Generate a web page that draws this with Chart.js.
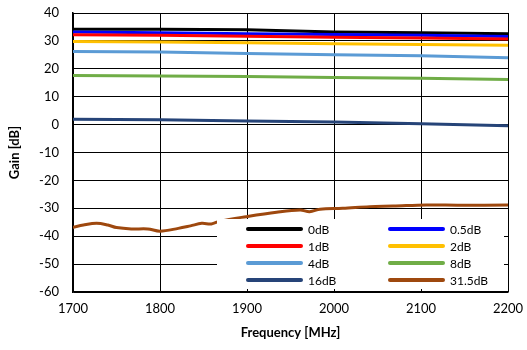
<!DOCTYPE html>
<html>
<head>
<meta charset="utf-8">
<script src="https://cdn.jsdelivr.net/npm/chart.js@4/dist/chart.umd.min.js"></script>
<style>
  html, body { margin: 0; padding: 0; background: #fff; }
  #wrap { width: 527px; height: 350px; }
</style>
</head>
<body>
<div id="wrap"><canvas id="gainChart" width="527" height="350"></canvas></div>
<script>
// frequencies for the flat curves [MHz]
const freqs = [1700, 1800, 1900, 2000, 2100, 2200];

// gain per attenuation step [dB]
const gain0dB   = [34.2, 34.2, 34.0, 33.2, 32.9, 32.6];
const gain05dB  = [33.2, 32.9, 32.6, 32.3, 32.0, 31.6];
const gain1dB   = [32.2, 32.0, 31.7, 31.3, 31.0, 30.7];
const gain2dB   = [29.8, 29.6, 29.3, 29.0, 28.7, 28.4];
const gain4dB   = [26.2, 26.0, 25.5, 25.0, 24.7, 24.0];
const gain8dB   = [17.6, 17.4, 17.2, 16.9, 16.6, 16.2];
const gain16dB  = [1.9, 1.7, 1.3, 0.9, 0.3, -0.4];

// the 31.5 dB curve is wavy, so it gets its own frequency points
const freqs315 = [1700, 1712, 1727, 1740, 1750, 1767, 1786, 1800, 1821, 1835, 1848, 1859,
                  1869, 1899, 1934, 1961, 1972, 1984, 2010, 2041, 2068, 2106, 2145, 2200];
const gain315dB = [-36.8, -36.0, -35.4, -36.0, -36.9, -37.4, -37.4, -38.2, -37.2, -36.3, -35.4, -35.6,
                   -34.6, -33.0, -31.4, -30.6, -31.2, -30.3, -30.0, -29.4, -29.2, -28.8, -28.9, -28.8];

const seriesLabels = ["0dB", "0.5dB", "1dB", "2dB", "4dB", "8dB", "16dB", "31.5dB"];
const seriesColors = ["#000000", "#0000FF", "#FF0000", "#FFC000", "#5B9BD5", "#70AD47", "#264478", "#9E480E"];
const xTicks = [1700, 1800, 1900, 2000, 2100, 2200];
const yTicks = [40, 30, 20, 10, 0, -10, -20, -30, -40, -50, -60];

const FONT = "Lato, 'Liberation Sans', sans-serif";

function pts(xs, ys) {
    return xs.map((x, i) => ({ x: x, y: ys[i] }));
}

const allSeries = [
    pts(freqs, gain0dB),
    pts(freqs, gain05dB),
    pts(freqs, gain1dB),
    pts(freqs, gain2dB),
    pts(freqs, gain4dB),
    pts(freqs, gain8dB),
    pts(freqs, gain16dB),
    pts(freqs315, gain315dB)
];

const datasets = allSeries.map((d, i) => ({
    label: seriesLabels[i],
    data: d,
    borderColor: seriesColors[i],
    backgroundColor: seriesColors[i],
    borderWidth: 3,
    pointRadius: 0,
    tension: i == 7 ? 0.35 : 0,
    order: 8 - i,
    borderCapStyle: "round"
}));

// white legend box drawn over the lower right of the plot, like Excel does
const boxLegend = {
    id: "boxLegend",
    afterDatasetsDraw(chart) {
        const ctx = chart.ctx;
        const a = chart.chartArea;
        const bx = a.left + 144, by = a.top + 206;
        const bw = a.right - 4 - bx, bh = a.bottom - 3 - by;
        ctx.save();
        ctx.fillStyle = "#ffffff";
        ctx.fillRect(bx, by, bw, bh);
        ctx.font = "12px " + FONT;
        ctx.textBaseline = "middle";
        ctx.fillStyle = "#000";
        for (let i = 0; i < seriesLabels.length; i++) {
            const col = i % 2, row = Math.floor(i / 2);
            const lx = a.left + 175 + col * 142;
            const ly = a.top + 216 + row * 17;
            ctx.strokeStyle = seriesColors[i];
            ctx.lineWidth = 4;
            ctx.lineCap = "round";
            ctx.beginPath();
            ctx.moveTo(lx, ly);
            ctx.lineTo(lx + 53, ly);
            ctx.stroke();
            ctx.fillText(seriesLabels[i], lx + 60, ly + 1);
        }
        ctx.restore();
    }
};

const myChart = new Chart(document.getElementById("gainChart"), {
    type: "line",
    data: { datasets: datasets },
    options: {
        responsive: false,
        animation: false,
        layout: { padding: { left: 0, top: 13, right: 19, bottom: 0 } },
        plugins: {
            legend: { display: false },
            tooltip: { enabled: false }
        },
        scales: {
            x: {
                type: "linear",
                min: 1700,
                max: 2200,
                afterBuildTicks: (s) => { s.ticks = xTicks.map(v => ({ value: v })); },
                afterFit: (s) => { s.height = 58; s.paddingLeft = 0; s.paddingRight = 0; },
                ticks: {
                    color: "#000",
                    padding: 9,
                    maxRotation: 0,
                    callback: (v) => String(v),
                    font: { family: FONT, size: 13 }
                },
                grid: { color: "#000", lineWidth: 1, drawTicks: false },
                border: { color: "#000", width: 1.5 },
                title: {
                    display: true,
                    text: "Frequency [MHz]",
                    color: "#000",
                    padding: { top: 4, bottom: 9 },
                    font: { family: FONT, size: 13, weight: "bold" }
                }
            },
            y: {
                min: -60,
                max: 40,
                afterBuildTicks: (s) => { s.ticks = yTicks.map(v => ({ value: v })); },
                afterFit: (s) => { s.width = 73; s.paddingTop = 0; s.paddingBottom = 0; },
                ticks: {
                    color: "#000",
                    padding: 14,
                    callback: (v) => String(v),
                    font: { family: FONT, size: 13 }
                },
                grid: { color: "#000", lineWidth: 1, drawTicks: false },
                border: { color: "#000", width: 1.5 },
                title: {
                    display: true,
                    text: "Gain [dB]",
                    color: "#000",
                    padding: { top: 7, bottom: 0 },
                    font: { family: FONT, size: 13, weight: "bold" }
                }
            }
        }
    },
    plugins: [boxLegend]
});
</script>
</body>
</html>
